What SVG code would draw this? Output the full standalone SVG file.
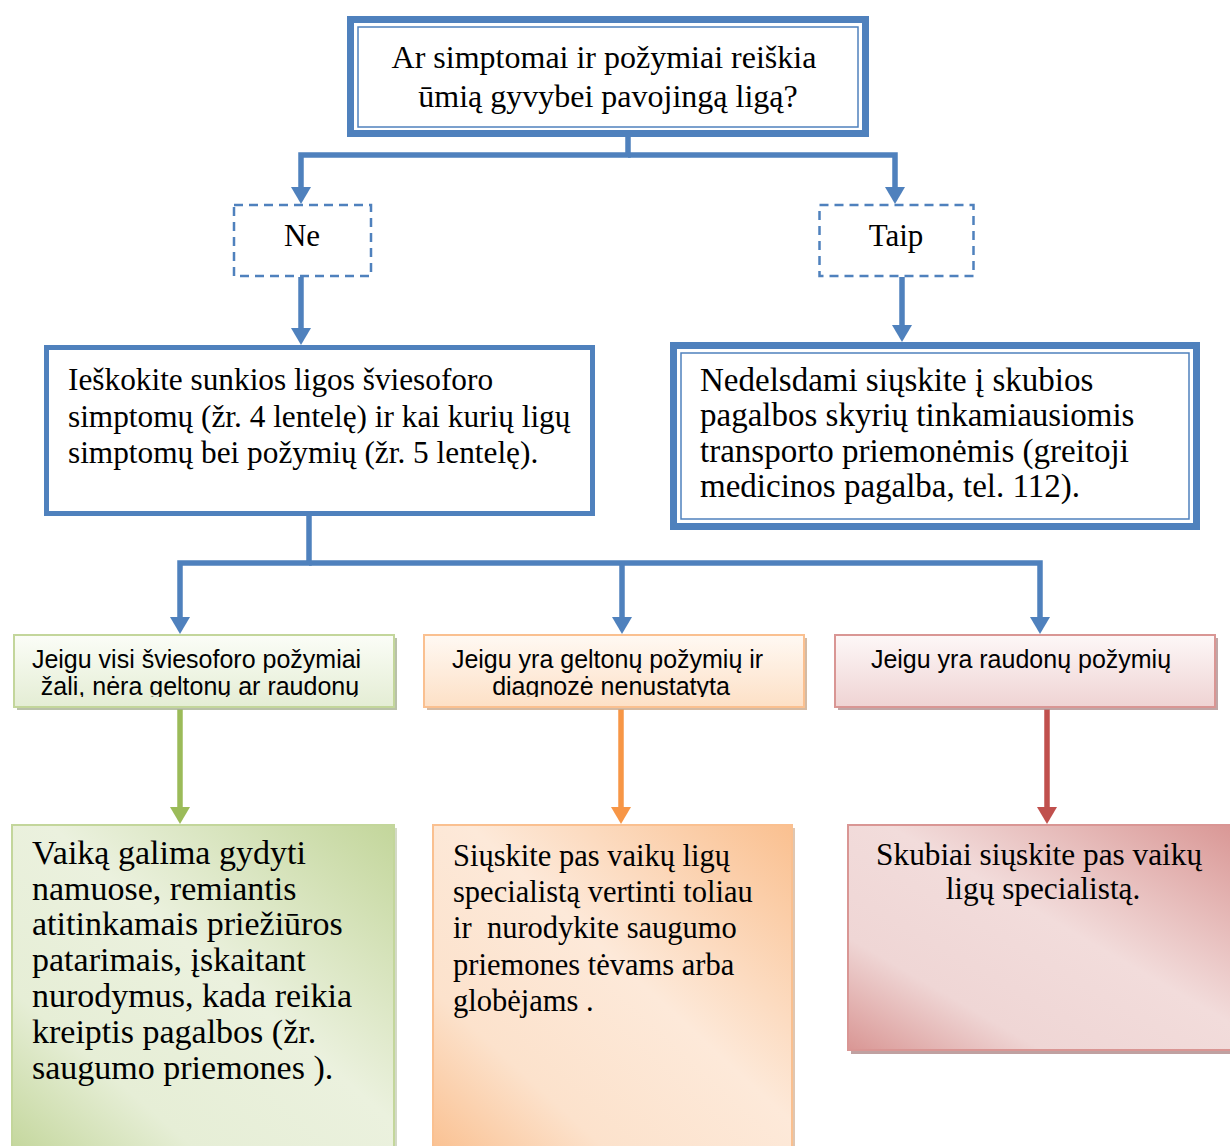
<svg xmlns="http://www.w3.org/2000/svg" width="1230" height="1146" viewBox="0 0 1230 1146">
  <style>
    .serif { font-family: "Liberation Serif", "Times New Roman", serif; fill: #000; }
    .sans { font-family: "Liberation Sans", Arial, sans-serif; fill: #000; }
    .blue-box { fill: #fff; stroke: #4f81bd; }
    .dash-box { fill: #fff; stroke: #4f81bd; stroke-width: 2.5; stroke-dasharray: 9 6; }
    .conn { fill: none; stroke-width: 5.5; stroke-linejoin: miter; }
    .c-blue { stroke: #4f81bd; }
    .c-green { stroke: #9bbb59; }
    .c-orange { stroke: #f79646; }
    .c-red { stroke: #c0504d; }
  </style>
  <defs>
    <marker id="arrow-blue" markerUnits="userSpaceOnUse" viewBox="0 0 17 20" refX="0" refY="10" markerWidth="17" markerHeight="20" orient="auto">
      <path d="M0,0 L17,10 L0,20 Z" fill="#4f81bd"/>
    </marker>
    <marker id="arrow-green" markerUnits="userSpaceOnUse" viewBox="0 0 17 20" refX="0" refY="10" markerWidth="17" markerHeight="20" orient="auto">
      <path d="M0,0 L17,10 L0,20 Z" fill="#9bbb59"/>
    </marker>
    <marker id="arrow-orange" markerUnits="userSpaceOnUse" viewBox="0 0 17 20" refX="0" refY="10" markerWidth="17" markerHeight="20" orient="auto">
      <path d="M0,0 L17,10 L0,20 Z" fill="#f79646"/>
    </marker>
    <marker id="arrow-red" markerUnits="userSpaceOnUse" viewBox="0 0 17 20" refX="0" refY="10" markerWidth="17" markerHeight="20" orient="auto">
      <path d="M0,0 L17,10 L0,20 Z" fill="#c0504d"/>
    </marker>

    <!-- light vertical fills for the three condition boxes -->
    <linearGradient id="g-green-s" x1="0" y1="0" x2="0" y2="1">
      <stop offset="0" stop-color="#fbfdf7"/>
      <stop offset="1" stop-color="#e4edd4"/>
    </linearGradient>
    <linearGradient id="g-orange-s" x1="0" y1="0" x2="0" y2="1">
      <stop offset="0" stop-color="#fff9f3"/>
      <stop offset="1" stop-color="#fde0c6"/>
    </linearGradient>
    <linearGradient id="g-red-s" x1="0" y1="0" x2="0" y2="1">
      <stop offset="0" stop-color="#fdf7f7"/>
      <stop offset="1" stop-color="#efd3d3"/>
    </linearGradient>

    <!-- diagonal fills for the outcome boxes -->
    <linearGradient id="g-green-l" x1="1" y1="0" x2="0" y2="1">
      <stop offset="0" stop-color="#c3d69b"/>
      <stop offset="0.45" stop-color="#ebf1de"/>
      <stop offset="0.75" stop-color="#e6eed6"/>
      <stop offset="1" stop-color="#c3d69b"/>
    </linearGradient>
    <linearGradient id="g-orange-l" x1="1" y1="0" x2="0" y2="1">
      <stop offset="0" stop-color="#fac090"/>
      <stop offset="0.45" stop-color="#fde9d9"/>
      <stop offset="0.75" stop-color="#fce2cc"/>
      <stop offset="1" stop-color="#fac090"/>
    </linearGradient>
    <linearGradient id="g-red-l" x1="1" y1="0" x2="0" y2="1">
      <stop offset="0" stop-color="#d99694"/>
      <stop offset="0.45" stop-color="#f2dcdb"/>
      <stop offset="0.75" stop-color="#efd6d5"/>
      <stop offset="1" stop-color="#d99694"/>
    </linearGradient>

    <clipPath id="clip-green-s"><rect x="14" y="636" width="380" height="61"/></clipPath>
    <clipPath id="clip-orange-s"><rect x="424" y="636" width="380" height="61"/></clipPath>
  </defs>

  <!-- connectors -->
  <g id="connectors">
    <path class="conn c-blue" d="M628,137 V155 H301 V187" marker-end="url(#arrow-blue)"/>
    <path class="conn c-blue" d="M628,155 H895 V187" marker-end="url(#arrow-blue)"/>
    <path class="conn c-blue" d="M301,277 V328" marker-end="url(#arrow-blue)"/>
    <path class="conn c-blue" d="M902,277 V325" marker-end="url(#arrow-blue)"/>
    <path class="conn c-blue" d="M309,516 V563 H180 V617" marker-end="url(#arrow-blue)"/>
    <path class="conn c-blue" d="M309,563 H1040 V617" marker-end="url(#arrow-blue)"/>
    <path class="conn c-blue" d="M622,563 V617" marker-end="url(#arrow-blue)"/>
    <path class="conn c-green" d="M180,709 V807" marker-end="url(#arrow-green)"/>
    <path class="conn c-orange" d="M621,709 V807" marker-end="url(#arrow-orange)"/>
    <path class="conn c-red" d="M1047,709 V807" marker-end="url(#arrow-red)"/>
  </g>

  <g id="question">
    <rect class="blue-box" x="350.5" y="19.5" width="515" height="114" stroke-width="7"/>
    <rect x="358" y="27" width="500" height="100" fill="none" stroke="#4f81bd" stroke-width="1.5"/>
    <text class="serif" font-size="32" text-anchor="middle">
      <tspan x="608" y="68">Ar simptomai ir požymiai reiškia</tspan>
      <tspan x="608" y="107">ūmią gyvybei pavojingą ligą?</tspan>
    </text>
  </g>

  <g id="no">
    <rect class="dash-box" x="234" y="205" width="137" height="71"/>
    <text class="serif" font-size="31" text-anchor="middle" x="302" y="246">Ne</text>
  </g>

  <g id="yes">
    <rect class="dash-box" x="819.5" y="205" width="154" height="71"/>
    <text class="serif" font-size="31" text-anchor="middle" x="896" y="246">Taip</text>
  </g>

  <g id="check-signs">
    <rect class="blue-box" x="46.5" y="347.5" width="546" height="166" stroke-width="5"/>
    <text class="serif" font-size="31.3">
      <tspan x="68" y="390">Ieškokite sunkios ligos šviesoforo</tspan>
      <tspan x="68" y="427">simptomų (žr. 4 lentelę) ir kai kurių ligų</tspan>
      <tspan x="68" y="463">simptomų bei požymių (žr. 5 lentelę).</tspan>
    </text>
  </g>

  <g id="emergency">
    <rect class="blue-box" x="673.5" y="345.5" width="523" height="181" stroke-width="7"/>
    <rect x="681" y="353" width="508" height="166" fill="none" stroke="#4f81bd" stroke-width="1.5"/>
    <text class="serif" font-size="33">
      <tspan x="700" y="391">Nedelsdami siųskite į skubios</tspan>
      <tspan x="700" y="426">pagalbos skyrių tinkamiausiomis</tspan>
      <tspan x="700" y="462">transporto priemonėmis (greitoji</tspan>
      <tspan x="700" y="497">medicinos pagalba, tel. 112).</tspan>
    </text>
  </g>

  <g id="green-signs">
    <rect x="17" y="638" width="380" height="72" fill="#a8b293" opacity="0.8"/>
    <rect x="14" y="635" width="380" height="72" fill="url(#g-green-s)" stroke="#c3d69b" stroke-width="2"/>
    <g clip-path="url(#clip-green-s)">
      <text class="sans" font-size="25" text-anchor="middle">
        <tspan x="200" y="668">Jeigu visi šviesoforo požymiai</tspan>
        <tspan x="200" y="695">žali, nėra geltonų ar raudonų</tspan>
      </text>
    </g>
  </g>

  <g id="yellow-signs">
    <rect x="427" y="638" width="380" height="72" fill="#c9a98c" opacity="0.8"/>
    <rect x="424" y="635" width="380" height="72" fill="url(#g-orange-s)" stroke="#fac090" stroke-width="2"/>
    <g clip-path="url(#clip-orange-s)">
      <text class="sans" font-size="25" text-anchor="middle">
        <tspan x="611" y="668">Jeigu yra geltonų požymių ir</tspan>
        <tspan x="611" y="695">diagnozė nenustatyta</tspan>
      </text>
    </g>
  </g>

  <g id="red-signs">
    <rect x="838" y="638" width="380" height="72" fill="#b09090" opacity="0.8"/>
    <rect x="835" y="635" width="380" height="72" fill="url(#g-red-s)" stroke="#d99694" stroke-width="2"/>
    <text class="sans" font-size="25" text-anchor="middle" x="1021" y="668">Jeigu yra raudonų požymių</text>
  </g>

  <g id="home-care">
    <rect x="15" y="828" width="382" height="330" fill="#c8cfb8" opacity="0.8"/>
    <rect x="12" y="825" width="382" height="330" fill="url(#g-green-l)" stroke="#c3d69b" stroke-width="2"/>
    <text class="serif" font-size="34">
      <tspan x="32" y="864">Vaiką galima gydyti</tspan>
      <tspan x="32" y="900">namuose, remiantis</tspan>
      <tspan x="32" y="935">atitinkamais priežiūros</tspan>
      <tspan x="32" y="971">patarimais, įskaitant</tspan>
      <tspan x="32" y="1007">nurodymus, kada reikia</tspan>
      <tspan x="32" y="1043">kreiptis pagalbos (žr.</tspan>
      <tspan x="32" y="1079">saugumo priemones ).</tspan>
    </text>
  </g>

  <g id="specialist">
    <rect x="436" y="828" width="359" height="330" fill="#d8b89c" opacity="0.8"/>
    <rect x="433" y="825" width="359" height="330" fill="url(#g-orange-l)" stroke="#fac090" stroke-width="2"/>
    <text class="serif" font-size="30.5" xml:space="preserve"><tspan x="453" y="866">Siųskite pas vaikų ligų</tspan><tspan x="453" y="902">specialistą vertinti toliau</tspan><tspan x="453" y="938">ir  nurodykite saugumo</tspan><tspan x="453" y="975">priemones tėvams arba</tspan><tspan x="453" y="1011">globėjams .</tspan></text>
  </g>

  <g id="urgent-specialist">
    <rect x="851" y="828" width="390" height="226" fill="#b08a8a" opacity="0.8"/>
    <rect x="848" y="825" width="390" height="225" fill="url(#g-red-l)" stroke="#d99694" stroke-width="2"/>
    <text class="serif" font-size="31.3" text-anchor="middle">
      <tspan x="1043" y="865">Skubiai siųskite pas vaikų</tspan>
      <tspan x="1043" y="899">ligų specialistą.</tspan>
    </text>
  </g>
</svg>
